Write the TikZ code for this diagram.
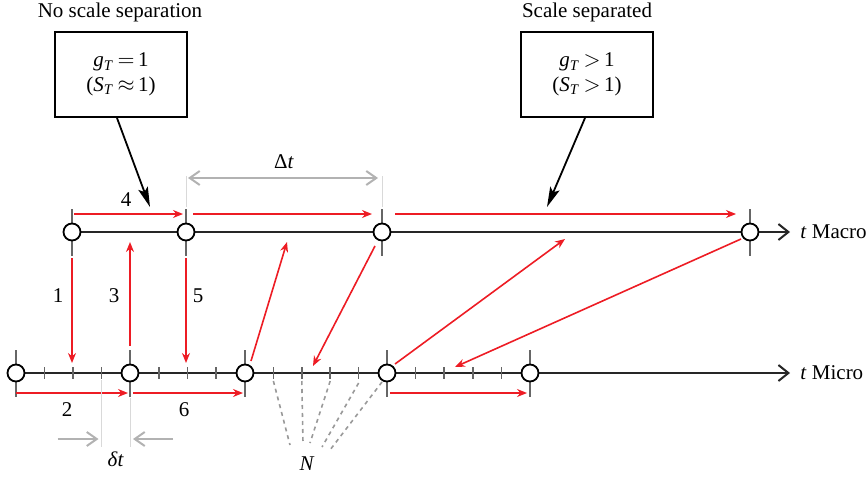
\documentclass[tikz,border=0pt]{standalone}
\usepackage{fontspec}
\setmainfont{Liberation Serif}
\usepackage{xcolor}
\usetikzlibrary{arrows.meta,positioning,calc,backgrounds}
\definecolor{myred}{RGB}{237,28,36}

\begin{document}
\begin{tikzpicture}[
    x=0.5pt, y=-0.5pt,
    font=\fontsize{10.5}{12.5}\selectfont,
    dot/.style={circle, draw=black, fill=white, line width=0.9pt, minimum size=8.5pt, inner sep=0pt},
    bigtick/.style={draw=black!60, line width=0.9pt},
    smalltick/.style={draw=black!60, line width=0.8pt},
    axis/.style={draw=black!85, line width=1pt, -{Straight Barb[length=5pt,width=8pt]}},
    redarr/.style={draw=myred, line width=0.8pt, -{Stealth[length=5pt,width=4pt]}},
    grayarr/.style={draw=black!30, line width=1pt, -{Straight Barb[length=5pt,width=7pt]}},
    guide/.style={draw=black!15, line width=0.4pt},
    dashline/.style={draw=black!40, line width=0.8pt, dash pattern=on 2pt off 2pt},
    infobox/.style={draw=black, line width=1pt, minimum width=66pt, minimum height=42.5pt, align=center, fill=white, font=\fontsize{10.5}{12.2}\selectfont},
    callout/.style={draw=black, line width=0.9pt, -{Stealth[length=10pt,width=5pt,inset=2pt]}},
    axislabel/.style={anchor=west, inner xsep=0.5pt}
]
    \path[use as bounding box] (0,0) rectangle (866,476);

    \node [dot] (M1) at (72,232) {};
    \node [dot] (M2) at (186,232) {};
    \node [dot] (M3) at (382,232) {};
    \node [dot] (M4) at (750,232) {};
    \node [dot] (m1) at (16,373) {};
    \node [dot] (m2) at (130,373) {};
    \node [dot] (m3) at (245,373) {};
    \node [dot] (m4) at (387,373) {};
    \node [dot] (m5) at (530,373) {};
    \coordinate (macroend) at (790,232);
    \coordinate (microend) at (790,373);

    \begin{scope}[on background layer]
        \draw [axis] (M1.center) -- (macroend);
        \draw [axis] (m1.center) -- (microend);
        \foreach \n in {M1,M2,M3,M4,m1,m2,m3,m4,m5}
            \draw [bigtick] ($(\n)+(0,-23)$) -- ($(\n)+(0,24)$);
        \foreach \i in {1,2,3} {
            \draw [smalltick] ($(m1)!\i/4!(m2)+(0,-6)$) -- ($(m1)!\i/4!(m2)+(0,6)$);
            \draw [smalltick] ($(m2)!\i/4!(m3)+(0,-6)$) -- ($(m2)!\i/4!(m3)+(0,6)$);
        }
        \foreach \i in {1,2,3,4} {
            \draw [smalltick] ($(m3)!\i/5!(m4)+(0,-6)$) -- ($(m3)!\i/5!(m4)+(0,6)$);
            \draw [smalltick] ($(m4)!\i/5!(m5)+(0,-6)$) -- ($(m4)!\i/5!(m5)+(0,6)$);
        }
    \end{scope}

    \node [axislabel] (macrolabel) at ($(macroend)+(9,0)$) {\textit{t} Macro};
    \node [axislabel] (microlabel) at ($(microend)+(9,0)$) {\textit{t} Micro};

    \node (lefttitle) at (120,12) {No scale separation};
    \node [infobox] (leftbox) at (121,74.5) {\textit{g}\textsubscript{\textit{T}}\,$=$\,1\\(\textit{S}\textsubscript{\textit{T}}\,$\approx$\,1)};
    \node (righttitle) at (587,12) {Scale separated};
    \node [infobox] (rightbox) at (587,74.5) {\textit{g}\textsubscript{\textit{T}}\,$>$\,1\\(\textit{S}\textsubscript{\textit{T}}\,$>$\,1)};
    \draw [callout] ($(leftbox.south)+(-4,0)$) -- ($(M2)+(-36,-25)$);
    \draw [callout] ($(rightbox.south)+(-2,0)$) -- ($(M3)+(165,-25)$);

    \draw [redarr] ($(M1)+(2,-18)$) -- ($(M2)+(-3,-18)$);
    \draw [redarr] ($(M2)+(7,-18)$) -- ($(M3)+(-10,-18)$);
    \draw [redarr] ($(M3)+(13,-18)$) -- ($(M4)+(-14,-18)$);
    \draw [redarr] ($(M1)+(0,26)$) -- ($(M1)+(0,131)$);
    \draw [redarr] ($(m2)+(0,-27)$) -- ($(m2)+(0,-131)$);
    \draw [redarr] ($(M2)+(0,26)$) -- ($(M2)+(0,131)$);
    \draw [redarr] ($(m3)+(6,-12)$) -- ($(m3)+(42,-131)$);
    \draw [redarr] ($(M3)+(-7,14)$) -- ($(M3)+(-69,134)$);
    \draw [redarr] ($(m4)+(8,-9)$) -- ($(m4)+(178,-134)$);
    \draw [redarr] ($(M4)+(-9,7)$) -- ($(M4)+(-295,135)$);
    \draw [redarr] ($(m1)+(0,20)$) -- ($(m2)+(-2,20)$);
    \draw [redarr] ($(m2)+(3,20)$) -- ($(m3)+(-2,20)$);
    \draw [redarr] ($(m4)+(3,20)$) -- ($(m5)+(-3,20)$);

    \node at (126,200) {4};
    \node at (58,296) {1};
    \node at (114,296) {3};
    \node at (198,296) {5};
    \node at (67,410) {2};
    \node at (184,410) {6};

    \draw [guide] ($(M2)+(0,-56)$) -- ($(M2)+(0,-25)$);
    \draw [guide] ($(M3)+(0,-56)$) -- ($(M3)+(0,-25)$);
    \draw [grayarr, {Straight Barb[length=5pt,width=7pt]}-{Straight Barb[length=5pt,width=7pt]}] ($(M2)+(2,-54)$) -- ($(M3)+(-4,-54)$);
    \node (Dt) at ($(M2)!0.5!(M3)+(0,-70)$) {Δ\textit{t}};

    \coordinate (dtleft) at ($(m1)!3/4!(m2)$);
    \draw [guide] ($(dtleft)+(0,7)$) -- ($(dtleft)+(0,74)$);
    \draw [guide] ($(m2)+(0,25)$) -- ($(m2)+(0,74)$);
    \draw [grayarr] ($(dtleft)+(-44,66)$) -- ($(dtleft)+(-3,66)$);
    \draw [grayarr] ($(m2)+(43,66)$) -- ($(m2)+(3,66)$);
    \node (dt) at ($(dtleft)!0.5!(m2)+(0,86)$) {\textit{δt}};

    \node (N) at (307,464) {\textit{N}};
    \draw [dashline] ($(m3)!1/5!(m4)+(0,8)$) -- ($(N)+(-17,-19)$);
    \draw [dashline] ($(m3)!2/5!(m4)+(0,8)$) -- ($(N)+(-4,-21)$);
    \draw [dashline] ($(m3)!3/5!(m4)+(0,8)$) -- ($(N)+(3,-21)$);
    \draw [dashline] ($(m3)!4/5!(m4)+(0,10)$) -- ($(N)+(15,-17)$);
    \draw [dashline] ($(m4)+(-5,9)$) -- ($(N)+(23,-14)$);
\end{tikzpicture}
\end{document}
